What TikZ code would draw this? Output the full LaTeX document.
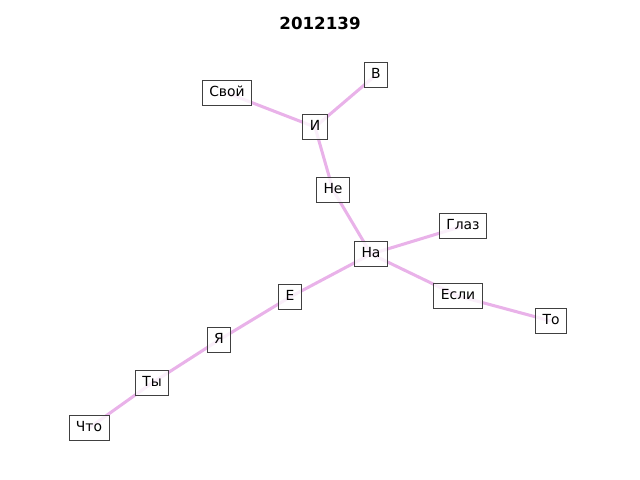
\documentclass[tikz,border=0pt]{standalone}
\usepackage{fontspec}
\setmainfont{DejaVu Sans}
\usepackage{xcolor}
\definecolor{linkcolor}{RGB}{233, 178, 233}
\definecolor{boxcolor}{RGB}{64, 64, 64}
\usepackage{tikz}
\usetikzlibrary{backgrounds}

\begin{document}
\begin{tikzpicture}[
    x=0.72pt, y=-0.72pt,
    word/.style={draw=boxcolor, line width=0.7pt, fill=white, fill opacity=0.8,
      text opacity=1, inner xsep=5pt, inner ysep=3.8pt, text height=7.6pt,
      text depth=2.2pt, font=\fontsize{10}{12}\selectfont}
  ]
  \useasboundingbox (0,0) rectangle (640,480);
  \node[font=\fontsize{12}{14}\selectfont\bfseries] (title) at (320,23) {2012139};
  % words
  \node[word] (v) at (376,75) {В};
  \node[word] (svoj) at (227,93) {Свой};
  \node[word] (i) at (315,127) {И};
  \node[word] (ne) at (333,190) {Не};
  \node[word] (glaz) at (463,226) {Глаз};
  \node[word] (na) at (371,254) {На};
  \node[word] (esli) at (458,296) {Если};
  \node[word] (to) at (551,321) {То};
  \node[word] (e) at (290,297) {Е};
  \node[word] (ja) at (219,340) {Я};
  \node[word] (ty) at (152,383) {Ты};
  \node[word] (chto) at (89,428) {Что};
  \begin{scope}[on background layer]
  \path[draw=linkcolor, line width=2.2pt]
    (svoj.center) edge (i.center)
    (i.center) edge (v.center)
    (i.center) edge (ne.center)
    (ne.center) edge (na.center)
    (na.center) edge (glaz.center)
    (na.center) edge (esli.center)
    (esli.center) edge (to.center)
    (na.center) edge (e.center)
    (e.center) edge (ja.center)
    (ja.center) edge (ty.center)
    (ty.center) edge (chto.center)
    ;
  \end{scope}
\end{tikzpicture}
\end{document}
